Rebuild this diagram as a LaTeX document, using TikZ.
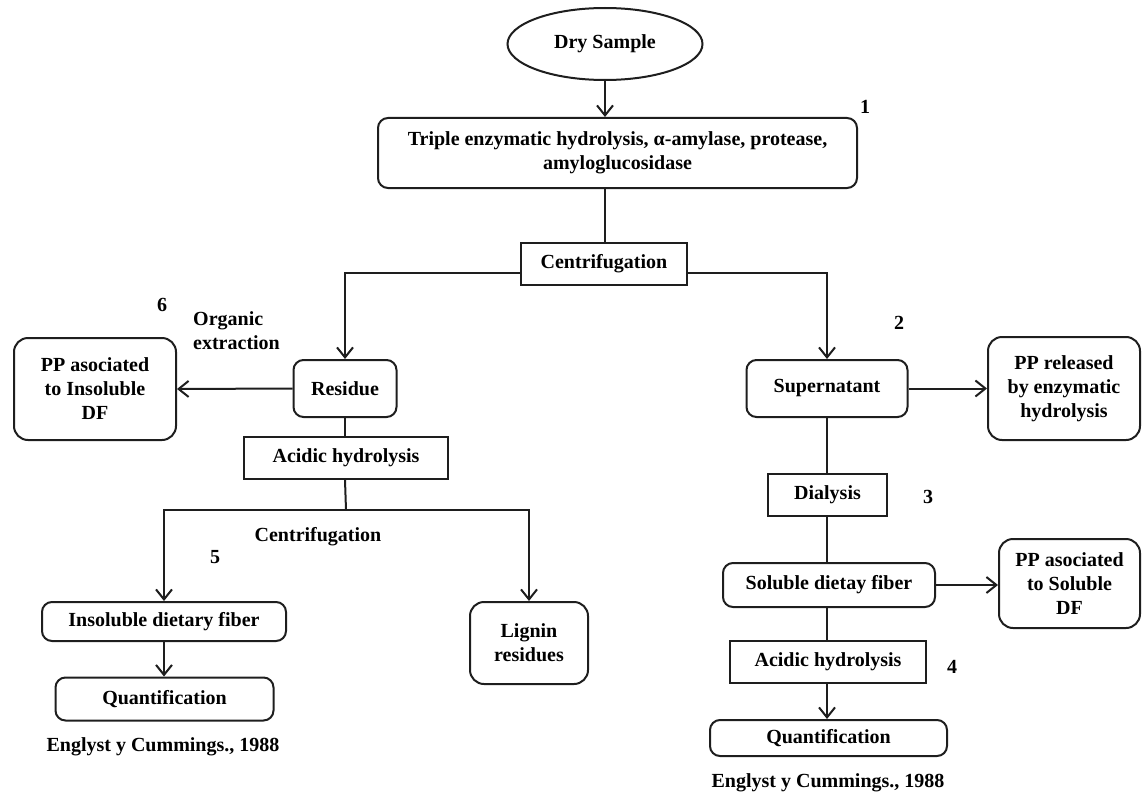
\documentclass[tikz,border=0pt]{standalone}
\usepackage{fontspec}
\setmainfont{Liberation Serif}
\usetikzlibrary{arrows.meta,shapes.geometric}
\definecolor{ink}{HTML}{1E1E1E}
\begin{document}
\begin{tikzpicture}[x=1pt,y=-1pt,
  font=\fontsize{20}{24}\selectfont\bfseries,
  every node/.style={text=black, inner sep=0pt},
  boxr/.style={draw=ink, line width=2pt, rounded corners=10pt, align=center},
  boxs/.style={draw=ink, line width=2pt, align=center},
  lbl/.style={align=left},
  conn/.style={draw=ink, line width=2pt},
  arr/.style={conn, -{Straight Barb[length=10pt,width=16pt,line width=2pt]}}
]
\useasboundingbox (0,0) rectangle (1142,797);
% top
\node[draw=ink, line width=2pt, ellipse, minimum width=195pt, minimum height=72pt] (dry) at (605,44) {Dry Sample};
\node[boxr, minimum width=479pt, minimum height=70pt] (tri) at (617.5,153) {Triple enzymatic hydrolysis, α-amylase, protease,\\ amyloglucosidase};
\node (n1) at (865,107) {1};
\node[boxs, minimum width=166pt, minimum height=42pt] (cen) at (604,264) {Centrifugation};
% left branch
\node[boxr, minimum width=103pt, minimum height=57pt] (res) at (345,388.5) {Residue};
\node[boxr, rounded corners=14pt, minimum width=162pt, minimum height=102pt] (ppi) at (95,389) {PP asociated\\ to Insoluble\\ DF};
\node (n6) at (162,305) {6};
\node[lbl, anchor=west] (org) at (193,331) {Organic\\ extraction};
\node[boxs, minimum width=204pt, minimum height=42pt] (acl) at (346,458) {Acidic hydrolysis};
\coordinate (spl) at (346,510);
\node[boxr, minimum width=244pt, minimum height=39pt] (ins) at (164,621.5) {Insoluble dietary fiber};
\node[boxr, rounded corners=14pt, minimum width=118pt, minimum height=82pt] (lig) at (529,643) {Lignin\\ residues};
\node[boxr, minimum width=218pt, minimum height=43pt] (qul) at (164.5,699) {Quantification};
\node (refl) at (163,747) {Englyst y Cummings., 1988};
\node (cl) at (318,537) {Centrifugation};
\node (n5) at (215,557) {5};
% right branch
\node[boxr, minimum width=161pt, minimum height=57pt] (sup) at (827,388.5) {Supernatant};
\node[boxr, rounded corners=14pt, minimum width=152pt, minimum height=103pt] (rel) at (1064,388.5) {PP released\\ by enzymatic\\ hydrolysis};
\node (n2) at (899,323) {2};
\node[boxs, minimum width=119pt, minimum height=42pt] (dia) at (827.5,495) {Dialysis};
\node (n3) at (928,497) {3};
\node[boxr, minimum width=212pt, minimum height=44pt] (sol) at (829,585) {Soluble dietay fiber};
\node[boxr, rounded corners=14pt, minimum width=141pt, minimum height=89pt] (pps) at (1069.5,583.5) {PP asociated\\ to Soluble\\ DF};
\node[boxs, minimum width=196pt, minimum height=42pt] (acr) at (828,662) {Acidic hydrolysis};
\node (n4) at (952,667) {4};
\node[boxr, minimum width=237pt, minimum height=36pt] (qur) at (828.5,738) {Quantification};
\node (refr) at (828,783) {Englyst y Cummings., 1988};
% connectors
\draw[arr] (dry.south) -- (dry.south |- tri.north);
\draw[conn] (dry.south |- tri.south) -- (dry.south |- cen.north);
\draw[arr] ([yshift=-9pt]cen.west) -| (res.north);
\draw[arr] ([yshift=-9pt]cen.east) -| (sup.north);
\draw[arr] (res.west) -- (ppi.east);
\draw[conn] (res.south) -- (res.south |- acl.north);
\draw[conn] (res.south |- acl.south) -- (spl);
\draw[arr] (spl) -| (ins.north);
\draw[arr] (spl) -| (lig.north);
\draw[arr] (ins.south) -- (ins.south |- qul.north);
\draw[arr] (sup.east) -- (sup.east -| rel.west);
\draw[conn] (sup.south) -- (sup.south |- dia.north);
\draw[conn] (sup.south |- dia.south) -- (sup.south |- sol.north);
\draw[arr] (sol.east) -- (sol.east -| pps.west);
\draw[conn] (sup.south |- sol.south) -- (sup.south |- acr.north);
\draw[arr] (sup.south |- acr.south) -- (sup.south |- qur.north);
\end{tikzpicture}
\end{document}
